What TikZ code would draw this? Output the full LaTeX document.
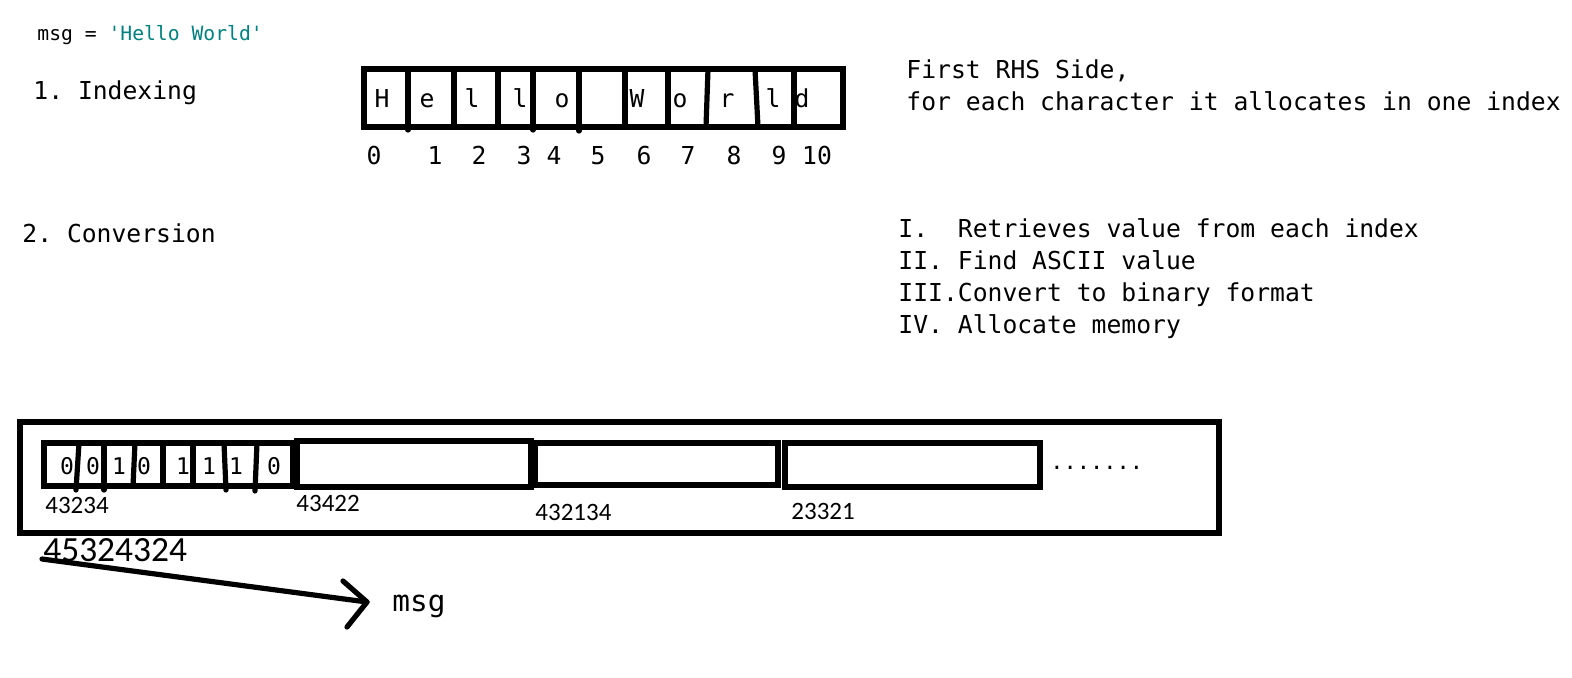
\documentclass[tikz,border=0pt]{standalone}
\usepackage{fontspec}
\setmonofont{DejaVu Sans Mono}
\newfontfamily\numfont{Carlito}
\definecolor{strteal}{RGB}{0,128,128}
\begin{document}
\begin{tikzpicture}[x=0.5pt,y=-0.5pt,
  mono/.style={inner sep=0pt,yshift=-1.2pt,font=\ttfamily\fontsize{12.35}{14}\selectfont,text height=0.73em,text depth=0pt},
  txt/.style={mono,anchor=west},
  cell/.style={mono,anchor=center},
  bit/.style={inner sep=0pt,anchor=center,font=\ttfamily\fontsize{11.5}{13}\selectfont,text height=0.73em,text depth=0pt},
  addr/.style={inner sep=0pt,anchor=west,font=\numfont\fontsize{12.5}{14}\selectfont,text height=0.63em,text depth=0pt},
  bigaddr/.style={inner sep=0pt,anchor=west,font=\numfont\fontsize{17.7}{20}\selectfont,text height=0.63em,text depth=0pt},
  box/.style={draw=black,line width=2.6pt},
  divider/.style={draw=black,line width=2.6pt,line cap=round},
  conn/.style={draw=black,line width=2.6pt,line cap=round,line join=round}]
\useasboundingbox[fill=white] (0,0) rectangle (1572,677);

% top line
\node[inner sep=0pt,anchor=west,font=\ttfamily\fontsize{9.85}{12}\selectfont,text height=0.73em,text depth=0pt] (code) at (37,33)
  {msg = \textcolor{strteal}{\textquotesingle Hello World\textquotesingle}};

% headings
\node[txt] (idx) at (33,90) {1. Indexing};
\node[txt] (conv) at (22,233) {2. Conversion};
\node[txt] (rhs1) at (906,69) {First RHS Side,};
\node[txt] (rhs2) at (906,101) {for each character it allocates in one index};
\node[txt] (s1) at (898,228) {I.\ \ Retrieves value from each index};
\node[txt] (s2) at (898,260) {II. Find ASCII value};
\node[txt] (s3) at (898,292) {III.Convert to binary format};
\node[txt] (s4) at (898,324) {IV. Allocate memory};

% Hello World index box
\draw[box] (364,69) rectangle (843,127);
\draw[divider] (408,69) -- (408,130);
\draw[divider] (454,69) -- (454,127);
\draw[divider] (498,69) -- (498,127);
\draw[divider] (533,69) -- (533,130);
\draw[divider] (579,69) -- (579,131);
\draw[divider] (625,69) -- (625,127);
\draw[divider] (668,69) -- (668,127);
\draw[divider] (708,69) -- (706,127);
\draw[divider] (755,69) -- (758,127);
\draw[divider] (794,69) -- (794,127);

\foreach \ch/\x [count=\i] in {H/382,e/427,l/472,l/520,o/562,W/637,o/680,r/727,l/773,d/802}
  \node[cell] (c\i) at (\x,98) {\ch};

\foreach \n/\x in {0/374,1/435,2/479,3/524,4/554,5/598,6/644,7/688,8/734,9/779,10/817}
  \node[cell] (i\n) at (\x,155) {\n};

% memory
\draw[box] (20,422) rectangle (1219,533);
\draw[box] (44,443) rectangle (293,486);
\draw[divider] (79,443) -- (76,490);
\draw[divider] (104,443) -- (104,490);
\draw[divider] (135,443) -- (133,486);
\draw[divider] (163,443) -- (163,486);
\draw[divider] (193,443) -- (193,486);
\draw[divider] (224,443) -- (226,490);
\draw[divider] (257,443) -- (255,491);
\draw[box] (297,441) rectangle (531,487);
\draw[box] (535,443) rectangle (778,485);
\draw[box] (785,443) rectangle (1040,487);

\foreach \b/\x [count=\i] in {0/67,0/93,1/119,0/144,1/183,1/209,1/236,0/274}
  \node[bit] (b\i) at (\x,467) {\b};

\node[inner sep=0pt,anchor=west,font=\ttfamily\fontsize{11}{13}\selectfont] (dots) at (1050,468) {.......};

\node[addr] (a1) at (45,507) {43234};
\node[addr] (a2) at (296,505) {43422};
\node[addr] (a3) at (535,514) {432134};
\node[addr] (a4) at (791,513) {23321};
\node[bigaddr] (base) at (43,555) {45324324};

% pointer arrow
\node[inner sep=0pt,anchor=west,font=\ttfamily\fontsize{14.7}{17}\selectfont,text height=0.545em,text depth=0pt] (var) at (392,606) {msg};
\coordinate (astart) at (42,559);
\coordinate (atip) at (367,602);
\coordinate (wup) at (343,581);
\coordinate (wlow) at (347,627);
\draw[conn] (astart) -- (atip);
\draw[conn] (wup) -- (atip) -- (wlow);
\end{tikzpicture}
\end{document}
